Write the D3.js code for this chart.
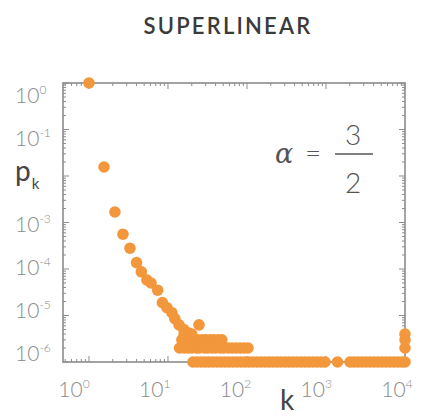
<!DOCTYPE html>
<html><head><meta charset="utf-8">
<script src="https://cdn.jsdelivr.net/npm/d3@7"></script>
<style>body{margin:0;background:#fff}</style>
</head><body>
<svg id="c" width="423" height="417"></svg>
<script>
const title = "SUPERLINEAR";
const xTickValues = [1, 10, 100, 1000, 10000];
const xTickExponents = ["0", "1", "2", "3", "4"];
const yTickValues = [1, 1e-1, 1e-3, 1e-4, 1e-5, 1e-6];
const yTickExponents = ["0", "-1", "-3", "-4", "-5", "-6"];

// head of the distribution (k, p_k)
const headK = [1, 1.55, 2.13, 2.69, 3.3, 4.0, 4.6, 5.4, 6.1, 7.4, 8.5, 9.7, 11.2, 12.2, 13.8, 15.9, 18.4, 20, 24.7];
const headP = [1, 0.0156, 1.68e-3, 5.6e-4, 2.8e-4, 1.37e-4, 8.7e-5, 5.8e-5, 5.0e-5, 3.5e-5, 1.9e-5, 1.47e-5, 1.15e-5, 8.6e-6, 6.3e-6, 5e-6, 4.2e-6, 3.4e-6, 6.3e-6];

// degrees observed with p_k = 4e-6, 3e-6, 2e-6, 1e-6
const row4K = [16, 18, 20];
const row3K = [15, 17, 19, 21, 24, 27, 30, 34, 38, 43, 48];
const row2K = [14, 16, 18, 20, 23, 25, 29, 32, 36, 40, 46, 51, 58, 65, 73, 82, 92, 103];
const row1K = [20.7, 23.3, 26.2, 29.4, 33, 37.1, 41.7, 46.9, 52.7, 59.2, 66.5, 74.7, 84, 94.4, 106, 119, 134, 150, 169, 190, 213, 240, 269, 303, 340, 382, 429, 483, 542, 609, 684, 769, 864, 971, 1399, 2014, 2262, 2541, 2855, 3208, 3604, 4049, 4549, 5111, 5742, 6451, 7247, 8142, 9147, 10000];
// hub degree
const hubK = [10000, 10000, 10000];
const hubP = [2e-6, 3e-6, 4e-6];

const points = [];
headK.forEach((k, i) => points.push({k, p: headP[i]}));
row4K.forEach(k => points.push({k, p: 4e-6}));
row3K.forEach(k => points.push({k, p: 3e-6}));
row2K.forEach(k => points.push({k, p: 2e-6}));
row1K.forEach(k => points.push({k, p: 1e-6}));
hubK.forEach((k, i) => points.push({k, p: hubP[i]}));

const L = 63, R = 405, T = 83, B = 362;
const svg = d3.select("#c");
const x = d3.scaleLog().domain([0.469, 1e4]).range([L, R]);
const y = d3.scaleLog().domain([1e-6, 1]).range([B, T]);
// label placement scales (labels in the original sit slightly off the ticks)
const xLab = d3.scaleLog().domain([1, 1e4]).range([74, 397]);
const yLab = d3.scaleLog().domain([1e-6, 1]).range([353, 95]);

const axisCol = "#8c8c8c";
const labCol = "#8a8a8a";

// ticks
const xMinor = [], yMinor = [];
for (let e = -1; e < 4; e++) for (let m = 2; m <= 9; m++) { const v = m * Math.pow(10, e); if (v > 0.469 && v < 1e4) xMinor.push(v); }
for (let e = -6; e < 0; e++) for (let m = 2; m <= 9; m++) yMinor.push(m * Math.pow(10, e));
const xMajor = [1, 10, 100, 1000, 10000];
const yMajor = [1e-6, 1e-5, 1e-4, 1e-3, 1e-2, 1e-1, 1];

const tg = svg.append("g").attr("stroke", axisCol).attr("stroke-width", 1);
function xt(v, len) {
  tg.append("line").attr("x1", x(v)).attr("x2", x(v)).attr("y1", B).attr("y2", B - len);
  tg.append("line").attr("x1", x(v)).attr("x2", x(v)).attr("y1", T).attr("y2", T + len);
}
function yt(v, len) {
  tg.append("line").attr("y1", y(v)).attr("y2", y(v)).attr("x1", L).attr("x2", L + len);
  tg.append("line").attr("y1", y(v)).attr("y2", y(v)).attr("x1", R).attr("x2", R - len);
}
xMinor.forEach(v => xt(v, 3)); xMajor.forEach(v => xt(v, 6));
yMinor.forEach(v => yt(v, 3)); yMajor.forEach(v => yt(v, 6));

svg.append("rect").attr("x", L).attr("y", T).attr("width", R - L).attr("height", B - T)
  .attr("fill", "none").attr("stroke", axisCol).attr("stroke-width", 1.6);

// points
svg.append("g").selectAll("circle").data(points).join("circle")
  .attr("cx", d => x(d.k)).attr("cy", d => y(d.p)).attr("r", 5.8)
  .attr("fill", "#f2973c");

const font = "Lato, 'Open Sans', Roboto, sans-serif";
// x labels
xTickValues.forEach((v, i) => {
  const t = svg.append("text").attr("x", xLab(v)).attr("y", 397).attr("text-anchor", "middle")
    .attr("font-family", font).attr("font-weight", 300).attr("font-size", 21).attr("fill", labCol);
  t.append("tspan").text("10");
  t.append("tspan").attr("font-size", 12).attr("dy", -9).text(xTickExponents[i]);
});
// y labels
yTickValues.forEach((v, i) => {
  const t = svg.append("text").attr("x", 15).attr("y", yLab(v) + 8).attr("text-anchor", "start")
    .attr("font-family", font).attr("font-weight", 300).attr("font-size", 21).attr("fill", labCol);
  t.append("tspan").text("10");
  t.append("tspan").attr("font-size", 12).attr("dy", -9).text(yTickExponents[i]);
});

// axis titles
const pk = svg.append("text").attr("x", 15).attr("y", 181).attr("font-family", font)
  .attr("font-size", 28).attr("fill", "#444");
pk.append("tspan").text("p");
pk.append("tspan").attr("font-size", 15).attr("dy", 8).attr("dx", 1).text("k");
svg.append("text").attr("x", 287).attr("y", 410).attr("text-anchor", "middle")
  .attr("font-family", font).attr("font-size", 28).attr("fill", "#444").text("k");

// title
svg.append("text").attr("x", 228).attr("y", 34).attr("text-anchor", "middle")
  .attr("font-family", font).attr("font-weight", 600).attr("font-size", 22)
  .attr("letter-spacing", 2.2).attr("fill", "#3a3a3a").text(title);

// alpha annotation
const ac = "#555";
svg.append("text").attr("x", 284).attr("y", 163).attr("text-anchor", "middle")
  .attr("font-family", "'DejaVu Serif', serif").attr("font-style", "italic").attr("font-size", 27)
  .attr("fill", ac).text("α");
svg.append("text").attr("x", 313).attr("y", 163).attr("text-anchor", "middle")
  .attr("font-family", font).attr("font-weight", 300).attr("font-size", 28).attr("fill", ac).text("=");
svg.append("line").attr("x1", 335).attr("x2", 373).attr("y1", 154).attr("y2", 154)
  .attr("stroke", ac).attr("stroke-width", 1.5);
svg.append("text").attr("x", 353).attr("y", 145).attr("text-anchor", "middle")
  .attr("font-family", font).attr("font-weight", 300).attr("font-size", 28).attr("fill", ac).text("3");
svg.append("text").attr("x", 353).attr("y", 193).attr("text-anchor", "middle")
  .attr("font-family", font).attr("font-weight", 300).attr("font-size", 28).attr("fill", ac).text("2");
</script>
</body></html>
